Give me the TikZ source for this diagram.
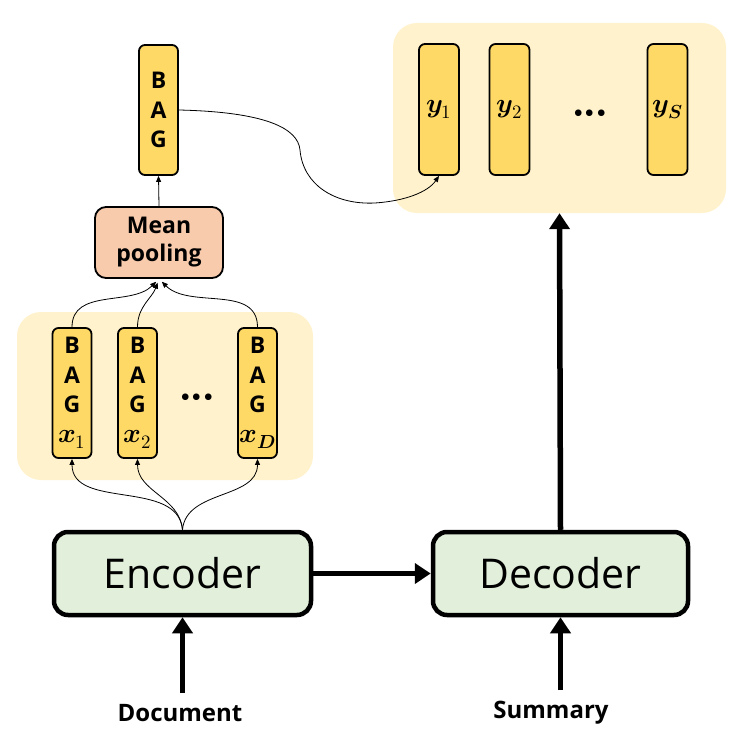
\documentclass[tikz,border=0pt]{standalone}
\usepackage{fontspec}
\usepackage{unicode-math}
\setmainfont{Open Sans}
\usetikzlibrary{arrows.meta}
\definecolor{panelc}{HTML}{FFF2CC}
\definecolor{yboxc}{HTML}{FFD966}
\definecolor{peachc}{HTML}{F8CBAD}
\definecolor{greenc}{HTML}{E2EFDA}
\newcommand{\bv}[2]{{\fontsize{27}{29}\selectfont$\symbfit{#1}_{#2}$}}
\newcommand{\threedots}{\hbox{$\bullet$\kern3pt$\bullet$\kern3pt$\bullet$}}
\begin{document}
\begin{tikzpicture}[x=1pt,y=-1pt,
  panelbox/.style={fill=panelc, draw=none, rounded corners=24pt, inner sep=0pt},
  vecbox/.style={fill=yboxc, draw=black, line width=1.8pt, rounded corners=6pt,
    minimum width=39pt, minimum height=130pt, inner sep=0pt, align=center,
    font=\fontsize{23}{29.5}\selectfont\bfseries},
  poolbox/.style={fill=peachc, draw=black, line width=1.8pt, rounded corners=11pt,
    minimum width=128pt, minimum height=71pt, inner sep=0pt, align=center,
    font=\fontsize{23}{28}\selectfont\bfseries},
  codebox/.style={fill=greenc, draw=black, line width=4.5pt, rounded corners=14pt,
    minimum width=257pt, minimum height=83pt, inner sep=0pt,
    font=\fontsize{41}{44}\selectfont},
  lbl/.style={font=\fontsize{24}{26}\selectfont\bfseries, inner sep=2pt},
  dots/.style={font=\fontsize{17}{17}\selectfont, inner sep=0pt},
  thinarrow/.style={line width=0.8pt, -{Triangle[length=6pt,width=5pt]}},
  thickarrow/.style={line width=5.5pt, -{Triangle[length=16pt,width=20pt]}}
]
\useasboundingbox (0,0) rectangle (743,746);
% panels
\node[panelbox, minimum width=333pt, minimum height=190pt] (toppanel) at (559.5,118) {};
\node[panelbox, minimum width=296pt, minimum height=168pt] (lowpanel) at (165,396) {};
% top BAG and pooling
\node[vecbox] (bag) at (158.5,110) {B\\A\\G};
\node[poolbox] (mp) at (159,242.5) {Mean\\pooling};
% lower BAGs
\node[vecbox] (x1) at (72,393) {B\\A\\G\\\bv{x}{1}};
\node[vecbox] (x2) at (137.5,393) {B\\A\\G\\\bv{x}{2}};
\node[vecbox] (xD) at (257.5,393) {B\\A\\G\\\bv{x}{\symbfit{D}}};
\node[dots] (ldots) at (197,398) {\threedots};
% summary vectors
\node[vecbox, minimum width=40pt, minimum height=131pt] (y1) at (439,109.5) {\bv{y}{1}};
\node[vecbox, minimum width=40pt, minimum height=131pt] (y2) at (509.5,109.5) {\bv{y}{2}};
\node[vecbox, minimum width=40pt, minimum height=131pt] (yS) at (667.5,109.5) {\bv{y}{\symbfit{S}}};
\node[dots] (tdots) at (590,114) {\threedots};
% encoder / decoder
\node[codebox, minimum width=257pt] (enc) at (182.5,573.5) {Encoder};
\node[codebox, minimum width=255pt] (dec) at (560.5,573.5) {Decoder};
\node[lbl] (doc) at (180,713) {Document};
\node[lbl] (sum) at (551,713) {Summary};
% thick arrows
\draw[thickarrow] (enc.east) -- (dec.west);
\draw[thickarrow] ([yshift=9pt]enc.south |- doc.north) -- (enc.south);
\draw[thickarrow] ([yshift=9pt]dec.south |- sum.north) -- (dec.south);
\draw[thickarrow] (dec.north) -- (toppanel.south);
% fan out from encoder
\draw[thinarrow] (enc.north) to[out=95,in=-90] (x1.south);
\draw[thinarrow] (enc.north) to[out=95,in=-90] (x2.south);
\draw[thinarrow] (enc.north) to[out=85,in=-90] (xD.south);
% fan in to pooling
\draw[thinarrow, shorten >=4pt] (x1.north) to[out=90,in=-135] (mp.south);
\draw[thinarrow, shorten >=4pt] (x2.north) to[out=90,in=-110] (mp.south);
\draw[thinarrow, shorten >=4pt] (xD.north) to[out=90,in=-45] (mp.south);
\draw[thinarrow] (mp.north) -- (bag.south);
% BAG to y1
\draw[thinarrow] (bag.east) .. controls (265,112) and (298,128) .. (300,150)
  .. controls (303,185) and (335,205) .. (375,203)
  .. controls (405,201) and (428,192) .. (y1.south);
\end{tikzpicture}
\end{document}
